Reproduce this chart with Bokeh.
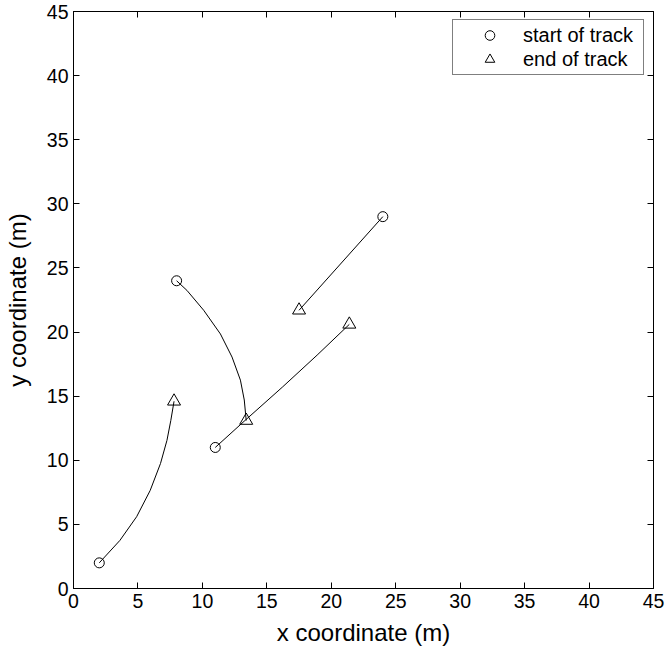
from bokeh.plotting import figure
from bokeh.models import Range1d, LinearAxis, FixedTicker, Legend, LegendItem
from bokeh.embed import file_html
from bokeh.resources import INLINE

# ---- data ----
track1_x = [2.0, 3.6, 4.9, 5.95, 6.75, 7.25, 7.55, 7.8]
track1_y = [2.0, 3.75, 5.6, 7.65, 9.75, 11.55, 13.1, 14.6]
track2_x = [8.0, 8.8, 10.1, 11.4, 12.3, 12.95, 13.25, 13.4]
track2_y = [24.0, 23.25, 21.7, 19.85, 18.05, 16.25, 14.7, 13.1]
track3_x = [11.0, 13.3, 16.2, 18.9, 21.4]
track3_y = [11.0, 13.1, 15.7, 18.2, 20.6]
track4_x = [24.0, 17.5]
track4_y = [29.0, 21.7]

start_x = [2.0, 8.0, 11.0, 24.0]
start_y = [2.0, 24.0, 11.0, 29.0]
end_x = [7.8, 13.4, 21.4, 17.5]
end_y = [14.6, 13.1, 20.6, 21.7]

x_ticks = [0, 5, 10, 15, 20, 25, 30, 35, 40, 45]
y_ticks = [0, 5, 10, 15, 20, 25, 30, 35, 40, 45]
x_label = "x coordinate (m)"
y_label = "y coordinate (m)"
legend_labels = ["start of track", "end of track"]

FONT = "Liberation Sans"

p = figure(width=666, height=654, output_backend="svg",
           toolbar_location=None, x_range=Range1d(0, 45), y_range=Range1d(0, 45),
           min_border_left=73, min_border_right=13, min_border_top=11, min_border_bottom=66)
p.background_fill_color = "white"
p.border_fill_color = "white"
p.outline_line_color = "black"
p.outline_line_width = 1
p.xgrid.visible = False
p.ygrid.visible = False

for ax, ticks in ((p.xaxis[0], x_ticks), (p.yaxis[0], y_ticks)):
    ax.ticker = FixedTicker(ticks=ticks)
    ax.major_tick_in = 6
    ax.major_tick_out = 0
    ax.minor_tick_line_color = None
    ax.axis_line_color = "black"
    ax.major_tick_line_color = "black"
    ax.major_label_text_font = FONT
    ax.major_label_text_font_size = "19.5px"
    ax.major_label_text_color = "black"
    ax.major_label_standoff = 5
    ax.axis_label_text_font = FONT
    ax.axis_label_text_font_size = "24px"
    ax.axis_label_text_font_style = "normal"
    ax.axis_label_text_color = "black"

p.xaxis[0].axis_label = x_label
p.yaxis[0].axis_label = y_label
p.xaxis[0].axis_label_standoff = 8
p.yaxis[0].axis_label_standoff = 13

for loc, ticks in (("above", x_ticks), ("right", y_ticks)):
    a = LinearAxis(ticker=FixedTicker(ticks=ticks), major_tick_in=6, major_tick_out=0,
                   minor_tick_line_color=None,
                   major_label_overrides={t: "" for t in ticks},
                   major_label_standoff=0, axis_line_color="black",
                   major_tick_line_color="black")
    p.add_layout(a, loc)

for tx, ty in ((track1_x, track1_y), (track2_x, track2_y),
               (track3_x, track3_y), (track4_x, track4_y)):
    p.line(tx, ty, line_color="black", line_width=1)

r_start = p.scatter(start_x, start_y, marker="circle", size=10, fill_color=None,
                    line_color="black", line_width=1)
r_end = p.scatter(end_x, end_y, marker="triangle", size=13, fill_color=None,
                  line_color="black", line_width=1)

legend = Legend(items=[LegendItem(label=legend_labels[0], renderers=[r_start]),
                       LegendItem(label=legend_labels[1], renderers=[r_end])],
                location=(379, 513))
legend.margin = 0
legend.padding = 3
legend.spacing = 0
legend.glyph_width = 67
legend.glyph_height = 24
legend.label_standoff = 0
legend.label_width = 117
legend.label_text_font = FONT
legend.label_text_font_size = "20px"
legend.label_text_color = "black"
legend.border_line_color = "black"
legend.border_line_width = 1
legend.background_fill_color = "white"
legend.background_fill_alpha = 1
p.add_layout(legend, "center")

open("out.html", "w").write(file_html(p, INLINE))
